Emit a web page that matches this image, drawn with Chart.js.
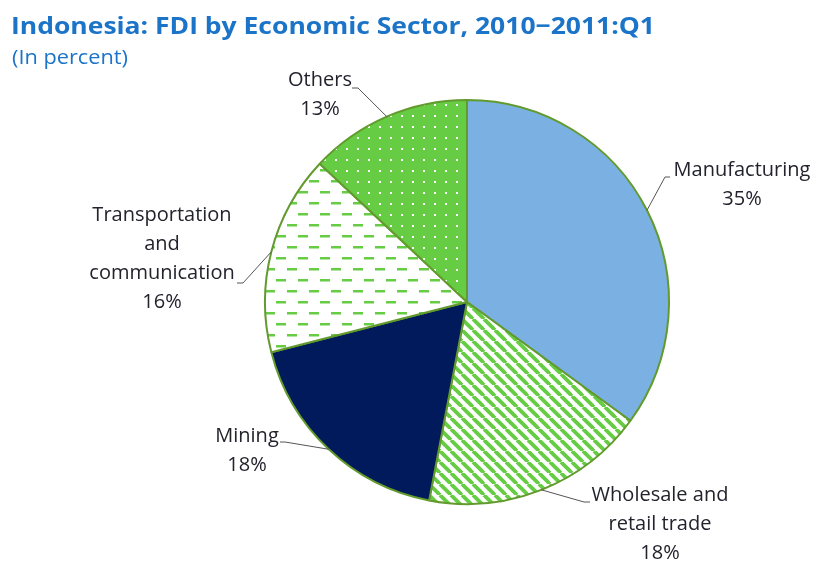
<!DOCTYPE html>
<html>
<head>
<meta charset="utf-8">
<script src="https://cdn.jsdelivr.net/npm/chart.js@4.4.1/dist/chart.umd.min.js"></script>
<style>
  html, body { margin: 0; padding: 0; background: #fff; }
  #wrap { position: relative; width: 816px; height: 562px; }
</style>
</head>
<body>
<div id="wrap"><canvas id="fdiChart" width="816" height="562"></canvas></div>
<script>
// FDI shares by sector, clockwise from 12 o'clock
const sectors = ['Manufacturing', 'Wholesale and retail trade', 'Mining', 'Transportation and communication', 'Others'];
const shares = [35, 18, 18, 16, 13];
const labelLines = [
  ['Manufacturing'],
  ['Wholesale and', 'retail trade'],
  ['Mining'],
  ['Transportation', 'and', 'communication'],
  ['Others']
];

const GREEN = '#66cc44';
const EDGE = '#629a2e';

function makeTile(w, h, draw) {
  const c = document.createElement('canvas');
  c.width = w; c.height = h;
  draw(c.getContext('2d'));
  return document.createElement('canvas').getContext('2d').createPattern(c, 'repeat');
}

// diagonal green stripes on white
const stripes = makeTile(11, 11, g => {
  g.fillStyle = '#fff';
  g.fillRect(0, 0, 11, 11);
  g.strokeStyle = GREEN;
  g.lineWidth = 3.8;
  for (let k = -11; k <= 22; k += 11) {
    g.beginPath();
    g.moveTo(k, 0);
    g.lineTo(k + 11, 11);
    g.stroke();
  }
});

// staggered horizontal dashes on white
const dashes = makeTile(22, 22, g => {
  g.fillStyle = '#fff';
  g.fillRect(0, 0, 22, 22);
  g.fillStyle = GREEN;
  g.fillRect(1, 4, 10, 2.5);
  g.fillRect(12, 15, 10, 2.5);
});

// white dots on green
const dots = makeTile(22, 22, g => {
  g.fillStyle = GREEN;
  g.fillRect(0, 0, 22, 22);
  g.fillStyle = '#fff';
  [[5, 5], [16, 16], [16, 5], [5, 16]].forEach(([x, y]) => { g.fillRect(x, y, 2, 2); });
});

const fills = ['#7ab1e2', stripes, '#011a5c', dashes, dots];

// where each label block sits and where its leader line leaves the text
const labelSpots = [
  { cx: 742, y: 170, stub: [[670, 177], [665, 177]] },
  { cx: 660, y: 495, stub: [[590, 502], [584, 502]] },
  { cx: 247, y: 436, stub: [[280, 442], [285, 442]] },
  { cx: 162, y: 215, stub: [[237, 283], [243, 283]] },
  { cx: 320, y: 80, stub: [[352, 88], [358, 88]] }
];

// draw text squeezed or stretched to a set width
function fitText(ctx, text, x, y, width) {
  const w = ctx.measureText(text).width;
  ctx.save();
  ctx.translate(x, y);
  ctx.scale(width / w, 1);
  ctx.fillText(text, 0, 0);
  ctx.restore();
}

const sliceLabels = {
  id: 'sliceLabels',
  afterDatasetsDraw(chart) {
    const ctx = chart.ctx;
    const meta = chart.getDatasetMeta(0);
    ctx.save();
    meta.data.forEach((arc, i) => {
      const p = arc.getProps(['x', 'y', 'startAngle', 'endAngle', 'outerRadius'], true);
      const mid = (p.startAngle + p.endAngle) / 2;
      const ex = p.x + Math.cos(mid) * p.outerRadius;
      const ey = p.y + Math.sin(mid) * p.outerRadius;
      const spot = labelSpots[i];
      ctx.strokeStyle = '#555';
      ctx.lineWidth = 1;
      ctx.beginPath();
      ctx.moveTo(spot.stub[0][0], spot.stub[0][1]);
      ctx.lineTo(spot.stub[1][0], spot.stub[1][1]);
      ctx.lineTo(ex, ey);
      ctx.stroke();

      const lines = labelLines[i].concat([shares[i] + '%']);
      ctx.fillStyle = '#23232e';
      ctx.font = '20px "Open Sans", sans-serif';
      ctx.textAlign = 'center';
      ctx.textBaseline = 'middle';
      lines.forEach((t, k) => ctx.fillText(t, spot.cx, spot.y + k * 29));
    });

    ctx.fillStyle = '#1b74c7';
    ctx.textAlign = 'left';
    ctx.textBaseline = 'alphabetic';
    ctx.font = 'bold 24px "Open Sans", sans-serif';
    fitText(ctx, 'Indonesia: FDI by Economic Sector, 2010\u22122011:Q1', 11, 34, 644);
    ctx.font = '20px "Open Sans", sans-serif';
    fitText(ctx, '(In percent)', 12, 64, 116);
    ctx.restore();
  }
};

new Chart(document.getElementById('fdiChart'), {
  type: 'pie',
  data: {
    labels: sectors,
    datasets: [{
      data: shares,
      backgroundColor: fills,
      borderColor: EDGE,
      borderWidth: 2
    }]
  },
  options: {
    responsive: false,
    devicePixelRatio: 1,
    animation: false,
    layout: { padding: { left: 264, right: 146, top: 99, bottom: 57 } },
    plugins: {
      legend: { display: false },
      tooltip: { enabled: false }
    }
  },
  plugins: [sliceLabels]
});
</script>
</body>
</html>
